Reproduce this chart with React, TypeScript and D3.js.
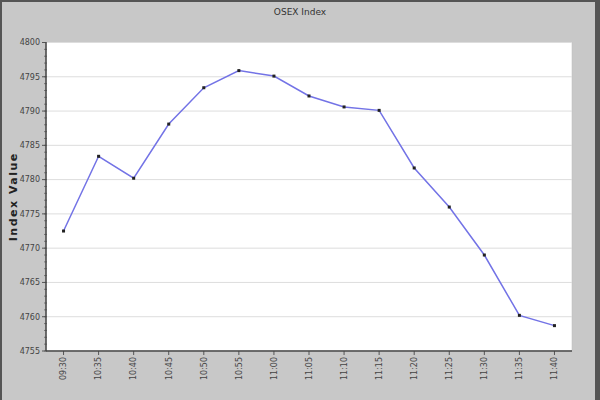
import React from 'react';
import * as d3 from 'd3';

// chart data
const times = ['09:30', '10:35', '10:40', '10:45', '10:50', '10:55', '11:00', '11:05',
  '11:10', '11:15', '11:20', '11:25', '11:30', '11:35', '11:40'];
const indexValues = [4772.5, 4783.4, 4780.2, 4788.1, 4793.4, 4795.9, 4795.1, 4792.2,
  4790.6, 4790.1, 4781.7, 4776.0, 4769.0, 4760.2, 4758.7];
const yTicks = [4755, 4760, 4765, 4770, 4775, 4780, 4785, 4790, 4795, 4800];
const yMinorTicks = d3.range(4755, 4801, 1);

const width = 600;
const height = 400;
const plot = { left: 46, right: 572, top: 42.5, bottom: 351 };

const App: React.FC = () => {
  const x = d3.scaleBand().domain(times).range([plot.left, plot.right]);
  const y = d3.scaleLinear().domain([4755, 4800]).range([plot.bottom, plot.top]);
  const cx = (t: string) => (x(t) ?? 0) + x.bandwidth() / 2;

  const line = d3.line<number>()
    .x((_, i) => cx(times[i]))
    .y(d => y(d));

  return (
    <svg width={width} height={height}
      style={{ position: 'absolute', left: 0, top: 0, fontFamily: 'DejaVu Sans, sans-serif' }}>
      {/* frame */}
      <rect x={0} y={0} width={width} height={height} fill="#c8c8c8" />
      <rect x={0} y={0} width={2} height={height} fill="#555" />
      <rect x={0} y={0} width={width} height={2} fill="#555" />
      <rect x={595} y={0} width={5} height={height} fill="#555" />

      <text x={300} y={15} textAnchor="middle" fontSize={9} fill="#333">OSEX Index</text>

      {/* plot area */}
      <rect x={plot.left} y={plot.top} width={plot.right - plot.left} height={plot.bottom - plot.top}
        fill="#fff" stroke="#bbb" strokeWidth={0.5} />

      {yTicks.map(t => (
        <line key={'g' + t} x1={plot.left} x2={plot.right} y1={y(t)} y2={y(t)}
          stroke="#ddd" strokeWidth={1} />
      ))}

      {/* y axis */}
      {yMinorTicks.map(t => (
        <line key={'m' + t} x1={plot.left - 2} x2={plot.left + 1} y1={y(t)} y2={y(t)}
          stroke="#666" strokeWidth={0.8} />
      ))}
      {yTicks.map(t => (
        <g key={'y' + t}>
          <line x1={plot.left - 4} x2={plot.left} y1={y(t)} y2={y(t)} stroke="#555" />
          <text x={plot.left - 6} y={y(t)} dy="0.35em" textAnchor="end" fontSize={8} fill="#444">{t}</text>
        </g>
      ))}
      <line x1={plot.left} x2={plot.left} y1={plot.top} y2={plot.bottom} stroke="#444" strokeWidth={1.5} />

      {/* x axis */}
      {times.map(t => (
        <g key={'x' + t}>
          <line x1={cx(t)} x2={cx(t)} y1={plot.bottom} y2={plot.bottom + 4} stroke="#555" />
          <text transform={`translate(${cx(t)},${plot.bottom + 6}) rotate(-90)`} dy="0.35em"
            textAnchor="end" fontSize={8} fill="#444">{t}</text>
        </g>
      ))}
      <line x1={plot.left} x2={plot.right} y1={plot.bottom} y2={plot.bottom} stroke="#444" strokeWidth={1.5} />

      <text transform={`translate(17,${(plot.top + plot.bottom) / 2}) rotate(-90)`} textAnchor="middle"
        fontSize={11} fontWeight="bold" letterSpacing={1.5} fill="#222">Index Value</text>

      {/* series */}
      <path d={line(indexValues) ?? ''} fill="none" stroke="#7373e6" strokeWidth={1.5} />
      {indexValues.map((v, i) => (
        <rect key={'p' + i} x={cx(times[i]) - 1.5} y={y(v) - 1.5} width={3} height={3} fill="#222" />
      ))}
    </svg>
  );
};

export default App;
